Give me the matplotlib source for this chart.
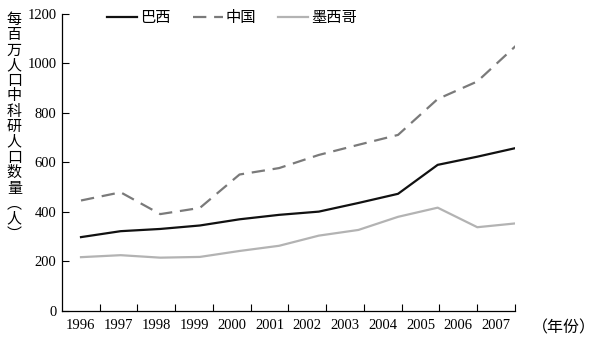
import matplotlib
matplotlib.use("Agg")
import numpy as np
import matplotlib.pyplot as plt

plt.rcParams['font.family'] = ['Liberation Serif', 'Noto Sans CJK SC']

years = [1996, 1997, 1998, 1999, 2000, 2001, 2002, 2003, 2004, 2005, 2006, 2007]
brazil = [298, 322, 331, 345, 370, 388, 401, 436, 473, 590, 623, 659]
china = [446, 479, 391, 416, 551, 577, 630, 671, 711, 856, 927, 1075]
mexico = [217, 225, 215, 218, 242, 263, 304, 327, 380, 417, 338, 354]
tick_labels = [str(y) for y in years]

fig = plt.figure(figsize=(5.96, 3.39), dpi=100)
ax = fig.add_axes([0.104, 0.083, 0.760, 0.876])

ax.plot(years, brazil, color='#111111', lw=1.6, label='巴西')
ax.plot(years, china, color='#7a7a7a', lw=1.6, dashes=(6, 3.5), label='中国')
ax.plot(years, mexico, color='#b3b3b3', lw=1.6, label='墨西哥')

# the plotted points sit slightly off the category boxes in the original
left, right = 1995.52, 2006.95
ax.set_xlim(left, right)
ax.set_ylim(0, 1200)
step = (right - left) / len(years)
ax.set_xticks([left + step * (k + 1) for k in range(len(years))])
ax.set_xticks([left + step * (k + 0.5) for k in range(len(years))], minor=True)
ax.set_xticklabels([])
ax.set_xticklabels(tick_labels, minor=True)
ax.tick_params(axis='x', which='major', direction='in', length=5, width=0.8)
ax.tick_params(axis='x', which='minor', length=0, pad=6, labelsize=10.5)
ax.set_yticks(np.arange(0, 1201, 200))
ax.tick_params(axis='y', direction='in', length=5, width=0.8, labelsize=10.5, pad=4)

for s in ['top', 'right']:
    ax.spines[s].set_visible(False)
for s in ['left', 'bottom']:
    ax.spines[s].set_linewidth(0.9)

ax.legend(loc='upper left', bbox_to_anchor=(0.07, 1.055), ncol=3, frameon=False,
          fontsize=11, handlelength=1.95, columnspacing=1.45, handletextpad=0.2)

cjk = ['Noto Sans CJK SC', 'DejaVu Sans']
ylabel = '每百万人口中科研人口数量︵人︶'
fig.text(0.024, 0.962, '\n'.join(ylabel), fontsize=10.8, ha='center', va='top',
         linespacing=1.12, family=cjk)
fig.text(0.946, 0.034, '（年份）', fontsize=11.5, ha='center', va='center', family=cjk)

fig.savefig('out.png', dpi=100)
